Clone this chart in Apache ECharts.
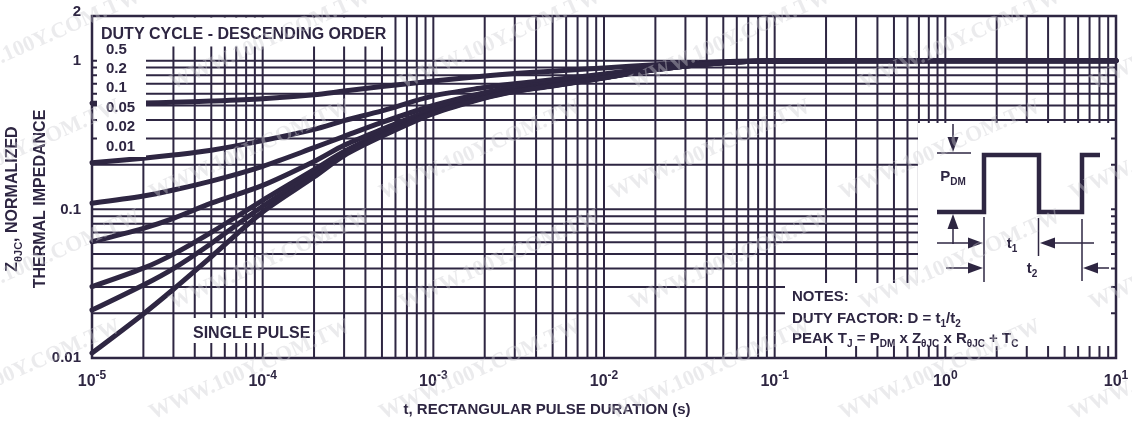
<!DOCTYPE html>
<html><head><meta charset="utf-8">
<script src="https://cdn.jsdelivr.net/npm/echarts@6/dist/echarts.min.js"></script>
<style>html,body{margin:0;padding:0;background:#fff}#c{width:1132px;height:426px}</style>
</head><body><div id="c"></div>
<script>
// ---- data ----
const T = [1e-5, 2e-5, 3e-5, 5e-5, 1e-4, 2e-4, 3e-4, 5e-4, 1e-3, 2e-3, 3e-3, 5e-3, 1e-2, 2e-2, 5e-2, 1e-1, 1, 10];
const D_050 = [0.518, 0.52, 0.525, 0.535, 0.555, 0.59, 0.625, 0.67, 0.73, 0.79, 0.82, 0.85, 0.895, 0.94, 0.985, 1.0, 1.0, 1.0];
const D_020 = [0.206, 0.221, 0.232, 0.25, 0.29, 0.345, 0.395, 0.46, 0.58, 0.66, 0.70, 0.745, 0.815, 0.90, 0.976, 0.997, 1.0, 1.0];
const D_010 = [0.110, 0.123, 0.135, 0.155, 0.195, 0.26, 0.31, 0.385, 0.50, 0.61, 0.66, 0.71, 0.79, 0.885, 0.973, 0.996, 1.0, 1.0];
const D_005 = [0.0606, 0.0746, 0.087, 0.11, 0.145, 0.21, 0.27, 0.345, 0.47, 0.585, 0.64, 0.692, 0.777, 0.878, 0.971, 0.995, 1.0, 1.0];
const D_002 = [0.0302, 0.0402, 0.050, 0.070, 0.115, 0.185, 0.245, 0.325, 0.452, 0.57, 0.628, 0.682, 0.77, 0.873, 0.97, 0.995, 1.0, 1.0];
const D_001 = [0.021, 0.031, 0.040, 0.059, 0.105, 0.175, 0.237, 0.317, 0.446, 0.565, 0.624, 0.679, 0.767, 0.871, 0.97, 0.995, 1.0, 1.0];
const SINGLE = [0.0108, 0.0198, 0.029, 0.048, 0.096, 0.165, 0.23, 0.31, 0.44, 0.56, 0.62, 0.675, 0.765, 0.87, 0.97, 0.995, 1.0, 1.0];

const X_MIN = 1e-5, X_MAX = 10, Y_MIN = 0.01, Y_MAX = 2;
const Y_TICKS = [0.01, 0.1, 1, 2];
const Y_TICK_LABELS = ['0.01', '0.1', '1', '2'];
const LEGEND_LABELS = ['0.5', '0.2', '0.1', '0.05', '0.02', '0.01'];
const WATERMARK = 'WWW.100Y.COM.TW';

// gridline positions (1..9 in every decade)
const X_GRID = [];
for (let e = -5; e <= 0; e++) for (let m = 1; m <= 9; m++) X_GRID.push(m * Math.pow(10, e));
const Y_GRID = [];
for (let e = -2; e <= -1; e++) for (let m = 1; m <= 9; m++) Y_GRID.push(m * Math.pow(10, e));
Y_GRID.push(1);

const C = '#2e2642';
const FF = '"Liberation Sans", Arial, Helvetica, sans-serif';

const chart = echarts.init(document.getElementById('c'));
const curves = [D_050, D_020, D_010, D_005, D_002, D_001, SINGLE];
const names = ['0.5', '0.2', '0.1', '0.05', '0.02', '0.01', 'SINGLE PULSE'];

chart.setOption({
  animation: false,
  backgroundColor: '#fff',
  grid: { left: 92, top: 16, right: 16, bottom: 68, show: false },
  xAxis: {
    type: 'log', logBase: 10, min: X_MIN, max: X_MAX,
    axisLine: { show: false }, axisTick: { show: false }, splitLine: { show: false },
    axisLabel: {
      margin: 12,
      formatter: v => '{b|10}{s|' + Math.round(Math.log10(v)) + '}',
      rich: {
        b: { fontFamily: FF, fontWeight: 'bold', fontSize: 16, color: C, lineHeight: 20, verticalAlign: 'top', padding: [4, 0, 0, 0] },
        s: { fontFamily: FF, fontWeight: 'bold', fontSize: 12, color: C, lineHeight: 14, verticalAlign: 'top' }
      }
    }
  },
  yAxis: {
    type: 'log', logBase: 10, min: Y_MIN, max: Y_MAX,
    axisLine: { show: false }, axisTick: { show: false }, splitLine: { show: false },
    axisLabel: { show: false }
  },
  series: [
    {
      type: 'custom', z: 1, silent: true,
      data: X_GRID.map(v => [v, 1]),
      renderItem: (p, api) => {
        const a = api.coord([api.value(0), Y_MIN]);
        const b = api.coord([api.value(0), Y_MAX]);
        return { type: 'line', shape: { x1: a[0], y1: a[1], x2: b[0], y2: b[1] }, style: { stroke: C, lineWidth: 2 } };
      }
    },
    {
      type: 'custom', z: 1, silent: true,
      data: Y_GRID.map(v => [1e-3, v]),
      renderItem: (p, api) => {
        const a = api.coord([X_MIN, api.value(1)]);
        const b = api.coord([X_MAX, api.value(1)]);
        return { type: 'line', shape: { x1: a[0], y1: a[1], x2: b[0], y2: b[1] }, style: { stroke: C, lineWidth: 2 } };
      }
    }
  ].concat(curves.map((d, i) => ({
    type: 'line', name: names[i], z: 3, silent: true,
    data: T.map((t, k) => [t, d[k]]),
    showSymbol: false, smooth: 0.3,
    lineStyle: { color: C, width: 5, cap: 'round', join: 'round' }
  })))
});

// ---- annotations ----
const g = [];
function rect(x, y, w, h) { g.push({ type: 'rect', z: 50, shape: { x, y, width: w, height: h }, style: { fill: '#fff' } }); }
function text(x, y, str, size, opts) {
  opts = opts || {};
  g.push(Object.assign({
    type: 'text', z: 60, x, y,
    style: Object.assign({
      text: str, fill: C, font: 'bold ' + size + 'px ' + FF,
      textAlign: opts.align || 'left', textVerticalAlign: 'middle'
    }, opts.style || {})
  }, opts.el || {}));
}
function line(pts, w) { g.push({ type: 'polyline', z: 60, shape: { points: pts }, style: { stroke: C, lineWidth: w, fill: null } }); }
function arrow(x1, y1, x2, y2) {
  const L = 15, W = 5.5;
  const dx = x2 - x1, dy = y2 - y1, len = Math.hypot(dx, dy);
  const ux = dx / len, uy = dy / len;
  const bx = x2 - ux * L, by = y2 - uy * L;
  line([[x1, y1], [bx, by]], 1.5);
  g.push({ type: 'polygon', z: 60, shape: { points: [[x2, y2], [bx - uy * W, by + ux * W], [bx + uy * W, by - ux * W]] }, style: { fill: C } });
}
const subRich = (main) => ({
  m: { fontFamily: FF, fontWeight: 'bold', fontSize: main, lineHeight: main + 3, verticalAlign: 'top', fill: C, color: C },
  s: { fontFamily: FF, fontWeight: 'bold', fontSize: Math.round(main * 0.68), lineHeight: main * 0.7, padding: [main * 0.55, 0, 0, 0], verticalAlign: 'top', fill: C, color: C }
});

// white boxes covering the grid
rect(93.5, 17.5, 298, 29);      // legend title
rect(97, 46, 49, 111);          // legend values
rect(178, 318, 132, 25);        // single pulse
rect(918, 123, 193, 161);       // pulse diagram
rect(785, 283, 326, 63);        // notes

// legend
text(101, 35, 'DUTY CYCLE - DESCENDING ORDER', 16);
const legY = [50, 69, 88, 108, 127, 147];
LEGEND_LABELS.forEach((s, i) => text(106, legY[i], s, 15));
text(193, 334, 'SINGLE PULSE', 16);

// notes
text(792, 297, 'NOTES:', 15);
text(792, 320, '{m|DUTY FACTOR: D = t}{s|1}{m|/t}{s|2}', 15, { style: { rich: subRich(15) } });
text(792, 340, '{m|PEAK T}{s|J}{m| = P}{s|DM}{m| x Z}{s|θJC}{m| x R}{s|θJC}{m| + T}{s|C}', 15, { style: { rich: subRich(15) } });

// pulse diagram
line([[937, 212], [984, 212], [984, 155], [1039, 155], [1039, 212], [1082, 212], [1082, 155], [1100, 155]], 4.5);
line([[937, 153], [971, 153]], 1.5);
arrow(953, 124, 953, 152);
arrow(953, 244, 953, 214);
text(953, 178, '{m|P}{s|DM}', 15, { align: 'center', style: { rich: subRich(15) } });
line([[984, 217], [984, 282]], 1.5);
line([[1038.5, 218], [1038.5, 256]], 1.5);
line([[1082, 219], [1082, 281]], 1.5);
arrow(937, 243, 983, 243);
arrow(1094, 243, 1040, 243);
text(1012, 245, '{m|t}{s|1}', 15, { align: 'center', style: { rich: subRich(15) } });
arrow(946, 268, 983, 268);
arrow(1109, 268, 1083, 268);
text(1032, 270, '{m|t}{s|2}', 15, { align: 'center', style: { rich: subRich(15) } });

// y tick labels
Y_TICKS.forEach((v, i) => {
  const p = chart.convertToPixel({ gridIndex: 0 }, [X_MIN, v]);
  text(p[0] - 11, p[1] - (v === Y_MAX ? 4 : 0), Y_TICK_LABELS[i], 15, { align: 'right' });
});

// axis titles
text(14, 199, '{m|Z}{s|θJC}{m|, NORMALIZED}', 16, { align: 'center', el: { rotation: Math.PI / 2 }, style: { rich: subRich(16) } });
text(41, 199, 'THERMAL IMPEDANCE', 16, { align: 'center', el: { rotation: Math.PI / 2 } });
text(547, 410, 't, RECTANGULAR PULSE DURATION (s)', 15, { align: 'center' });

// plot frame
const tl = chart.convertToPixel({ gridIndex: 0 }, [X_MIN, Y_MAX]);
const br = chart.convertToPixel({ gridIndex: 0 }, [X_MAX, Y_MIN]);
g.push({ type: 'rect', z: 100, shape: { x: tl[0], y: tl[1], width: br[0] - tl[0], height: br[1] - tl[1] }, style: { fill: null, stroke: C, lineWidth: 2.5 } });

// faint watermark of the source image
const WM_X = [40, 270, 500, 730, 960, 1190];
const WM_Y = [40, 150, 260, 370];
WM_Y.forEach((wy, r) => WM_X.forEach(wx => {
  g.push({ type: 'text', z: 200, silent: true, x: wx + (r % 2 ? -20 : 0), y: wy, rotation: 0.42,
    style: { text: WATERMARK, fill: 'rgba(205,205,210,0.4)', font: 'bold 22px "Liberation Serif", "Times New Roman", serif', textAlign: 'center', textVerticalAlign: 'middle' } });
}));

chart.setOption({ graphic: { elements: g } });
</script>
</body></html>
